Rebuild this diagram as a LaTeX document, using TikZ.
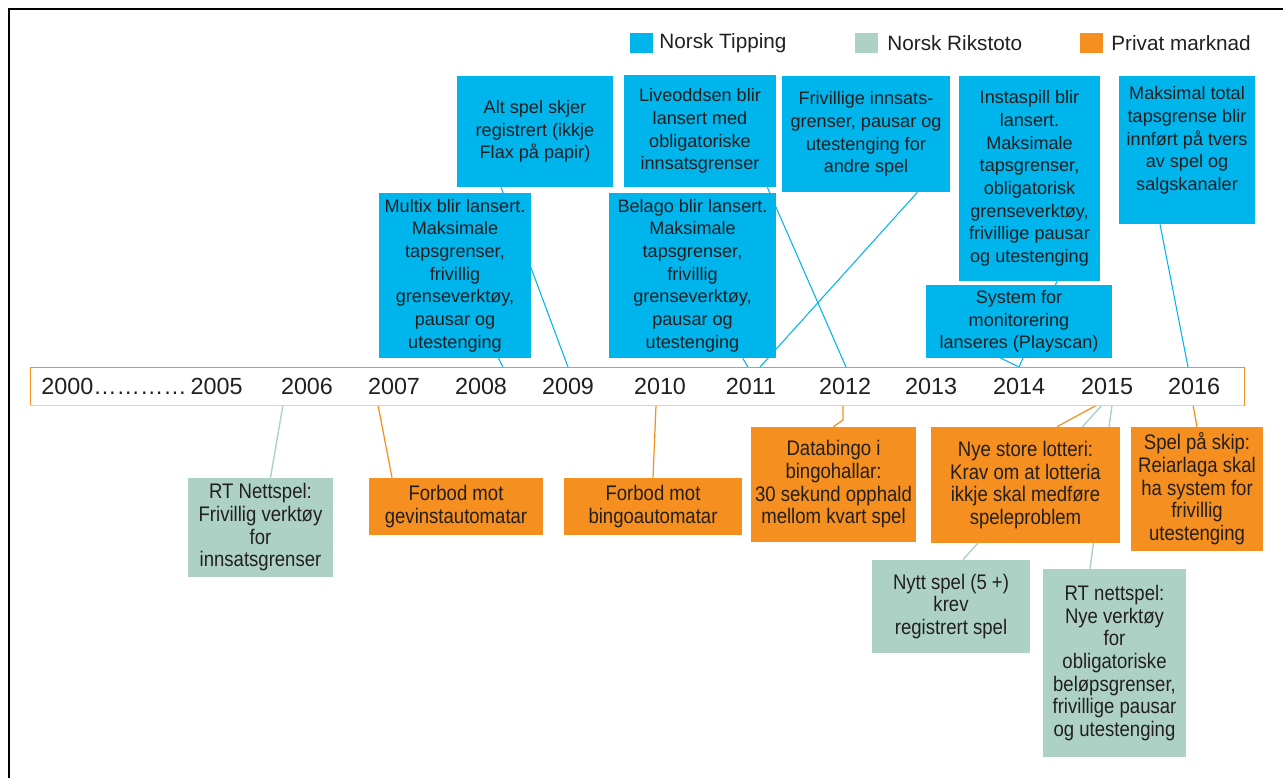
\documentclass[tikz,border=0pt]{standalone}
\usepackage{fontspec}
\setmainfont{Liberation Sans}
\newfontfamily\narrowsans[FakeStretch=0.88]{Liberation Sans}
\usetikzlibrary{backgrounds,positioning,calc}
\definecolor{TippingBlue}{RGB}{0,180,236}
\definecolor{RikstotoGreen}{RGB}{173,210,197}
\definecolor{PrivatOrange}{RGB}{245,143,31}
\definecolor{InkGrey}{RGB}{35,31,32}
\tikzset{
  tipbox/.style={fill=TippingBlue, align=center, inner sep=0pt, text=InkGrey,
    font=\fontsize{10.3}{12.9}\selectfont},
  rtbox/.style={fill=RikstotoGreen, align=center, inner sep=0pt, text=InkGrey,
    font=\narrowsans\fontsize{12}{12.9}\selectfont},
  privbox/.style={fill=PrivatOrange, align=center, inner sep=0pt, text=InkGrey,
    font=\narrowsans\fontsize{12}{12.9}\selectfont},
  tiplink/.style={draw=TippingBlue, line width=0.6pt},
  rtlink/.style={draw=RikstotoGreen, line width=0.8pt},
  privlink/.style={draw=PrivatOrange, line width=0.7pt},
  yearlabel/.style={font=\fontsize{13.3}{16}\selectfont, text=InkGrey, inner sep=0pt},
  legendkey/.style={minimum width=0.46cm, minimum height=0.4cm, inner sep=0pt},
  legendtext/.style={anchor=west, inner sep=0pt, font=\fontsize{11.8}{14}\selectfont, text=InkGrey}
}

\begin{document}
\begin{tikzpicture}[x=0.02cm, y=-0.02cm]
  \useasboundingbox (0,0) rectangle (1283,778);
  \draw[line width=1.7pt] (9,778) -- (9,9) -- (1283,9);

  \node[legendkey, fill=TippingBlue] (keytip) at (641.5,43) {};
  \node[legendtext] (labtip) at (659,43) {Norsk Tipping};
  \node[legendkey, fill=RikstotoGreen] (keyrt) at (866.5,43) {};
  \node[legendtext] (labrt) at (887,43) {Norsk Rikstoto};
  \node[legendkey, fill=PrivatOrange] (keypriv) at (1091.5,43) {};
  \node[legendtext] (labpriv) at (1111,43) {Privat marknad};

  \node[draw=PrivatOrange, fill=white, minimum width=24.28cm, minimum height=0.76cm, inner sep=0pt] (bar) at (637,386) {};
  \draw[PrivatOrange!45, line width=0.8pt] (bar.south west) -- (bar.south east);
  \node[yearlabel, anchor=west] (y2000) at (41,386) {2000…………\,2005};
  \foreach \yr/\xx in {2006/307,2007/394,2008/481,2009/568,2010/660,2011/751,2012/845,2013/931,2014/1019,2015/1107,2016/1194}
    \node[yearlabel] (y\yr) at (\xx,386) {\yr};

  \coordinate (t2008) at (503,367);
  \coordinate (t2009) at (568,367);
  \coordinate (t2011a) at (748,367);
  \coordinate (t2011b) at (760,367);
  \coordinate (t2012) at (846,367);
  \coordinate (t2014) at (1019,367);
  \coordinate (t2016) at (1188,367);
  \coordinate (b2006) at (283,405);
  \coordinate (b2007) at (378,405);
  \coordinate (b2010) at (656,405);
  \coordinate (b2012) at (843,405);
  \coordinate (b2015o) at (1097,405);
  \coordinate (b2015g) at (1102,405);
  \coordinate (b2015h) at (1112,405);
  \coordinate (b2016) at (1193,405);

  \node[tipbox, minimum width=3.12cm, minimum height=2.22cm] (alt) at (535,131.5) {Alt spel skjer\\registrert (ikkje\\Flax på papir)};
  \node[tipbox, minimum width=3.04cm, minimum height=2.24cm] (live) at (700,131) {Liveoddsen blir\\lansert med\\obligatoriske\\innsatsgrenser};
  \node[tipbox, minimum width=3.36cm, minimum height=2.32cm] (friv) at (866,134) {Frivillige innsats-\\grenser, pausar og\\utestenging for\\andre spel};
  \node[tipbox, minimum width=2.82cm, minimum height=4.10cm] (insta) at (1029.5,178.5) {Instaspill blir\\lansert.\\Maksimale\\tapsgrenser,\\obligatorisk\\grenseverktøy,\\frivillige pausar\\og utestenging};
  \node[tipbox, minimum width=2.72cm, minimum height=2.96cm] (maks) at (1187,150) {Maksimal total\\tapsgrense blir\\innført på tvers\\av spel og\\salgskanaler\\~};
  \node[tipbox, minimum width=3.04cm, minimum height=3.30cm] (multix) at (455,275.5) {Multix blir lansert.\\Maksimale\\tapsgrenser,\\frivillig\\grenseverktøy,\\pausar og\\utestenging};
  \node[tipbox, minimum width=3.34cm, minimum height=3.30cm] (belago) at (692.5,275.5) {Belago blir lansert.\\Maksimale\\tapsgrenser,\\frivillig\\grenseverktøy,\\pausar og\\utestenging};
  \node[tipbox, minimum width=3.72cm, minimum height=1.46cm] (system) at (1019,321.5) {System for\\monitorering\\lanseres (Playscan)};

  \node[rtbox, minimum width=2.90cm, minimum height=1.98cm] (rtnett) at (260.5,527.5) {RT Nettspel:\\Frivillig verktøy\\for\\innsatsgrenser};
  \node[privbox, minimum width=3.48cm, minimum height=1.14cm] (gevinst) at (456,506.5) {Forbod mot\\gevinstautomatar};
  \node[privbox, minimum width=3.56cm, minimum height=1.14cm] (bingo) at (653,506.5) {Forbod mot\\bingoautomatar};
  \node[privbox, minimum width=3.30cm, minimum height=2.30cm] (databingo) at (833.5,484.5) {Databingo i\\bingohallar:\\30 sekund opphald\\mellom kvart spel};
  \node[privbox, minimum width=3.78cm, minimum height=2.32cm] (lotteri) at (1025.5,485) {Nye store lotteri:\\Krav om at lotteria\\ikkje skal medføre\\speleproblem};
  \node[privbox, minimum width=2.64cm, minimum height=2.48cm] (skip) at (1197,489) {Spel på skip:\\Reiarlaga skal\\ha system for\\frivillig\\utestenging};
  \node[rtbox, minimum width=3.16cm, minimum height=1.86cm] (nytt) at (951,606.5) {Nytt spel (5 +)\\krev\\registrert spel};
  \node[rtbox, minimum width=2.86cm, minimum height=3.76cm] (rtnye) at (1114.5,663) {RT nettspel:\\Nye verktøy\\for\\obligatoriske\\beløpsgrenser,\\frivillige pausar\\og utestenging};

  \begin{scope}[on background layer]
    \draw[tiplink] (multix) -- (t2008);
    \draw[tiplink] ([xshift=-0.68cm]alt.south) -- (t2009);
    \draw[tiplink] (belago) -- (t2011a);
    \draw[tiplink] ([xshift=-0.66cm]friv.south east) -- (t2011b);
    \draw[tiplink] ([xshift=-0.18cm]live.south east) -- (t2012);
    \draw[tiplink] ([xshift=0.55cm]insta.south) -- (t2014);
    \draw[tiplink] (system.west) -- (t2014);
    \draw[tiplink] ([xshift=-0.54cm]maks.south) -- (t2016);
    \draw[rtlink] (b2006) -- ([xshift=0.2cm]rtnett.north);
    \draw[privlink] (b2007) -- ([xshift=-1.28cm]gevinst.north);
    \draw[privlink] (b2010) -- (bingo.north);
    \draw[privlink] (b2012) -- ([yshift=-0.3cm]b2012) -- (databingo.north);
    \draw[privlink] (b2015o) -- ([xshift=0.63cm]lotteri.north);
    \draw[rtlink] (b2015g) -- ([xshift=0.24cm]nytt.north);
    \draw[rtlink] (b2015h) -- ([xshift=-0.49cm]rtnye.north);
    \draw[privlink] (b2016) -- (skip.north);
  \end{scope}
\end{tikzpicture}
\end{document}
